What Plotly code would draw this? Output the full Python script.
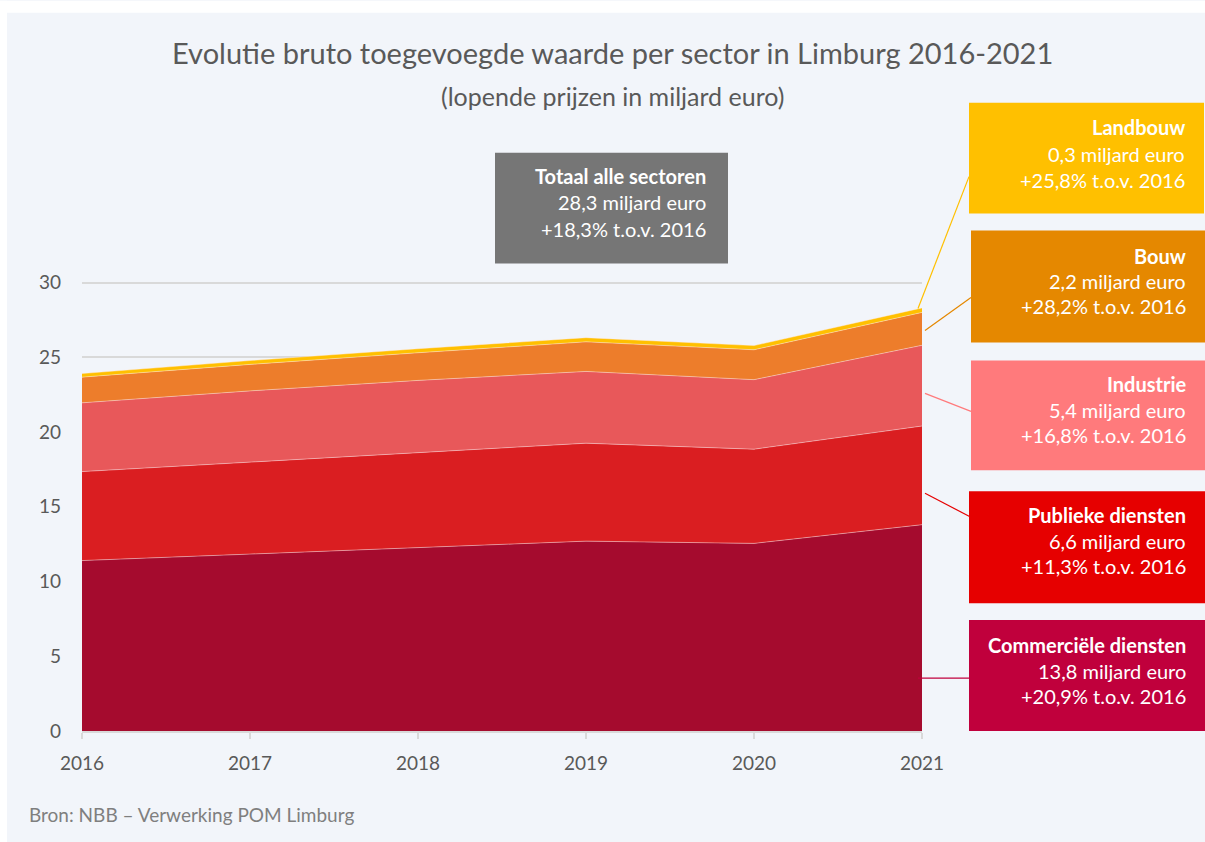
import plotly.graph_objects as go

years = [2016, 2017, 2018, 2019, 2020, 2021]
sectors = ["Commerciële diensten", "Publieke diensten", "Industrie", "Bouw", "Landbouw"]
commerciele = [11.4, 11.85, 12.3, 12.7, 12.55, 13.8]
publieke = [5.95, 6.15, 6.35, 6.55, 6.3, 6.6]
industrie = [4.6, 4.75, 4.8, 4.8, 4.65, 5.4]
bouw = [1.72, 1.77, 1.85, 1.98, 2.0, 2.2]
landbouw = [0.24, 0.26, 0.27, 0.28, 0.28, 0.3]
series = [commerciele, publieke, industrie, bouw, landbouw]
groei = ["+20,9%", "+11,3%", "+16,8%", "+28,2%", "+25,8%"]
totaal_groei = "+18,3%"

area_colors = ["#a50b2e", "#da1e21", "#e8585a", "#ed7d2b", "#ffc000"]
box_colors = ["#c0003c", "#e60000", "#ff7a7c", "#e58800", "#ffc000"]

FONT = "Lato, 'Open Sans', sans-serif"
W, H = 1205, 842
YMAX = 30.1
L, R, B = 82, 922, 731
T = 282 - (YMAX - 30) * (731 - 282) / 30


def X(px):
    return (px - L) / (R - L)


def Y(py):
    return (B - py) / (B - T)


def fmt(v):
    return f"{v:.1f}".replace(".", ",")


fig = go.Figure()
for name, vals, col in zip(sectors, series, area_colors):
    fig.add_trace(go.Scatter(
        x=years, y=vals, name=name, stackgroup="one", mode="lines",
        line=dict(width=0.8, color="rgba(255,235,235,0.55)"),
        fillcolor=col, hoverinfo="x+y+name",
    ))

shapes = []
annotations = []

# white outer strips
shapes.append(dict(type="rect", xref="paper", yref="paper", x0=X(0), x1=X(W), y0=Y(12), y1=Y(0),
                   fillcolor="white", line=dict(width=0), layer="above"))
shapes.append(dict(type="rect", xref="paper", yref="paper", x0=X(0), x1=X(7), y0=Y(H), y1=Y(0),
                   fillcolor="white", line=dict(width=0), layer="above"))

# title
annotations.append(dict(text="Evolutie bruto toegevoegde waarde per sector in Limburg 2016-2021",
                        xref="paper", yref="paper", x=X(612), y=Y(52), xanchor="center", yanchor="middle",
                        showarrow=False, font=dict(family=FONT, size=29, color="#595959")))
annotations.append(dict(text="(lopende prijzen in miljard euro)",
                        xref="paper", yref="paper", x=X(612), y=Y(95), xanchor="center", yanchor="middle",
                        showarrow=False, font=dict(family=FONT, size=25, color="#595959")))
# source
annotations.append(dict(text="Bron: NBB – Verwerking POM Limburg",
                        xref="paper", yref="paper", x=X(27), y=Y(815), xanchor="left", yanchor="middle",
                        showarrow=False, font=dict(family=FONT, size=19, color="#7f7f7f")))


def box(x0, x1, y0, y1, color, lines, text_right, line_ys):
    shapes.append(dict(type="rect", xref="paper", yref="paper", x0=X(x0), x1=X(x1), y0=Y(y1), y1=Y(y0),
                       fillcolor=color, line=dict(width=0), layer="above"))
    for i, (t, ly) in enumerate(zip(lines, line_ys)):
        annotations.append(dict(text=f"<b>{t}</b>" if i == 0 else t,
                                xref="paper", yref="paper", x=X(text_right), y=Y(ly),
                                xanchor="right", yanchor="middle", showarrow=False,
                                font=dict(family=FONT, size=20, color="white")))


# total box
tot21 = sum(s[-1] for s in series)
box(495, 728, 152, 263, "#767676",
    ["Totaal alle sectoren", f"{fmt(tot21)} miljard euro", f"{totaal_groei} t.o.v. 2016"],
    708, [175, 201, 228])

# sector boxes: (x0, x1, y0, y1, line ys, connector start, connector end)
box_geo = [
    (969, 1205, 620, 731, [645, 671, 696], (918, 678), (969, 678)),
    (969, 1205, 491, 603, [515, 541, 566], (925, 493), (971, 517)),
    (971, 1205, 360, 470, [384, 410, 435], (925, 393), (971, 411)),
    (971, 1205, 230, 342, [255, 281, 306], (925, 330), (971, 297)),
    (969, 1204, 102, 213, [126, 153, 179], (918, 308), (969, 176)),
]
for name, vals, col, g, geo in zip(sectors, series, box_colors, groei, box_geo):
    x0, x1, y0, y1, lys, cs, ce = geo
    box(x0, x1, y0, y1, col, [name, f"{fmt(vals[-1])} miljard euro", f"{g} t.o.v. 2016"],
        x1 - 17, lys)
    shapes.append(dict(type="line", xref="paper", yref="paper", x0=X(cs[0]), y0=Y(cs[1]),
                       x1=X(ce[0]), y1=Y(ce[1]), line=dict(color=col, width=1.2), layer="above"))

fig.update_layout(
    width=W, height=H,
    margin=dict(l=L, r=W - R, t=T, b=H - B, pad=0),
    paper_bgcolor="#f2f5fa", plot_bgcolor="rgba(0,0,0,0)",
    showlegend=False,
    shapes=shapes, annotations=annotations,
    font=dict(family=FONT, color="#595959"),
    xaxis=dict(range=[2016, 2021], tickvals=years, ticktext=[str(y) for y in years],
               showgrid=False, zeroline=False, showline=True, linecolor="#d9d9d9", linewidth=1.5,
               ticks="outside", ticklen=6, tickcolor="#d9d9d9", tickwidth=1.5,
               tickfont=dict(family=FONT, size=19, color="#595959"), ticklabelstandoff=8),
    yaxis=dict(range=[0, YMAX], tickvals=[0, 5, 10, 15, 20, 25, 30],
               showgrid=True, gridcolor="#d9d9d9", gridwidth=1.5, zeroline=False, showline=False,
               ticks="", tickfont=dict(family=FONT, size=19, color="#595959"), ticklabelstandoff=20),
)

fig.write_html("out.html", config={"displayModeBar": False},
               post_script="document.body.style.margin='0';document.body.style.padding='0';")
